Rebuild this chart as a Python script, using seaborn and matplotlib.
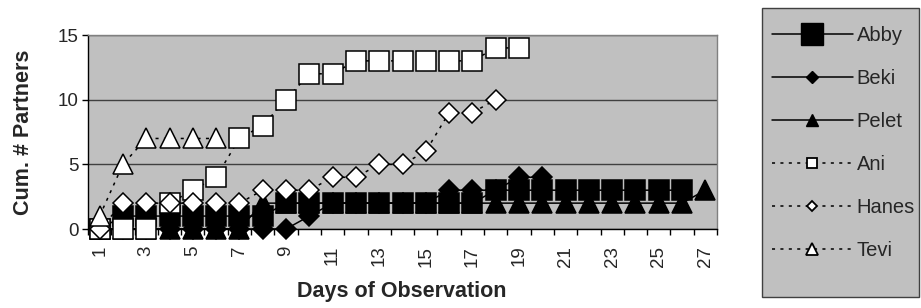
import matplotlib
matplotlib.use("Agg")
import matplotlib.pyplot as plt
import seaborn as sns
from matplotlib.lines import Line2D
from matplotlib.patches import Rectangle

# ---------------- data ----------------
days = list(range(1, 28))
abby = [0, 1, 1, 1, 1, 1, 1, 1, 2, 2, 2, 2, 2, 2, 2, 2, 2, 3, 3, 3, 3, 3, 3, 3, 3, 3]
beki = [0, 0, 0, 0, 0, 0, 0, 0, 0, 1, 2, 2, 2, 2, 2, 3, 3, 3, 4, 4]
pelet = [0, 0, 0, 0, 0, 0, 0, 2, 2, 2, 2, 2, 2, 2, 2, 2, 2, 2, 2, 2, 2, 2, 2, 2, 2, 2, 3]
ani = [0, 0, 0, 2, 3, 4, 7, 8, 10, 12, 12, 13, 13, 13, 13, 13, 13, 14, 14]
hanes = [0, 2, 2, 2, 2, 2, 2, 3, 3, 3, 4, 4, 5, 5, 6, 9, 9, 10]
tevi = [1, 5, 7, 7, 7, 7]
names = ["Abby", "Beki", "Pelet", "Ani", "Hanes", "Tevi"]
xlabels = [str(d) for d in days if d % 2 == 1]
yticks = [0, 5, 10, 15]

# ---------------- style ----------------
sns.set_style("ticks")
plt.rcParams["font.family"] = ["Liberation Sans", "DejaVu Sans"]

W, H = 921, 308
fig = plt.figure(figsize=(W / 100, H / 100), dpi=100)
L, R, T, B = 88, 717, 35, 229
ax = fig.add_axes([L / W, 1 - B / H, (R - L) / W, (B - T) / H])
ax.set_facecolor("#c0c0c0")

dot = (0, (2.0, 3.5))
series = [
    # name, values, linestyle, marker, ms, face, zorder
    ("Pelet", pelet, "-", "^", 14.5, "black", 3),
    ("Beki", beki, "-", "D", 10.0, "black", 4),
    ("Abby", abby, "-", "s", 14.0, "black", 5),
    ("Ani", ani, dot, "s", 14.0, "white", 6),
    ("Hanes", hanes, dot, "D", 9.8, "white", 7),
    ("Tevi", tevi, dot, "^", 14.5, "white", 8),
]
for name, vals, ls, mk, ms, fc, z in series:
    sns.lineplot(x=days[:len(vals)], y=vals, ax=ax, color="black",
                 linestyle=ls, linewidth=1.1, marker=mk, markersize=ms,
                 markerfacecolor=fc, markeredgecolor="black",
                 markeredgewidth=1.1, clip_on=False, zorder=z, legend=False)

# axes
ax.set_ylim(0, 15)
ax.set_xlim(0.5, 27.5)
ax.set_yticks(yticks)
ax.set_yticklabels([str(v) for v in yticks])
ax.set_xticks([d for d in days if d % 2 == 1])
ax.set_xticklabels(xlabels, rotation=90)
ax.set_xticks([d + 0.5 for d in range(0, 28)], minor=True)
ax.tick_params(axis="x", which="major", length=0, pad=12, labelsize=13.5)
ax.tick_params(axis="x", which="minor", length=4, width=1, color="black", direction="out")
ax.tick_params(axis="y", which="major", length=4, width=1, color="black", direction="out",
               labelsize=13.5, pad=3)
ax.yaxis.grid(True, color="#404040", linewidth=1)
ax.xaxis.grid(False)
ax.set_axisbelow(True)
for s in ["left", "bottom"]:
    ax.spines[s].set_color("black")
    ax.spines[s].set_linewidth(1)
for s in ["top", "right"]:
    ax.spines[s].set_visible(True)
    ax.spines[s].set_color("#808080")
    ax.spines[s].set_linewidth(1)

ax.set_ylabel("Cum. # Partners", fontsize=15.5, fontweight="bold", va="center")
ax.yaxis.set_label_coords((24 - L) / (R - L), 0.5)
ax.set_xlabel("Days of Observation", fontsize=15.5, fontweight="bold", va="center")
ax.xaxis.set_label_coords((402 - L) / (R - L), -(292 - B) / (B - T))

# legend
fig.add_artist(Rectangle((762 / W, 1 - 297 / H), (919 - 762) / W, (297 - 8) / H,
                         transform=fig.transFigure, facecolor="#c0c0c0",
                         edgecolor="#404040", linewidth=1, zorder=0))
handles = [
    Line2D([], [], color="black", lw=1.1, ls="-", marker="s", ms=16, mfc="black", mec="black"),
    Line2D([], [], color="black", lw=1.1, ls="-", marker="D", ms=6, mfc="black", mec="black"),
    Line2D([], [], color="black", lw=1.1, ls="-", marker="^", ms=8, mfc="black", mec="black"),
    Line2D([], [], color="black", lw=1.1, ls=dot, marker="s", ms=7, mfc="white", mec="black", mew=1.3),
    Line2D([], [], color="black", lw=1.1, ls=dot, marker="D", ms=5.5, mfc="white", mec="black", mew=1.3),
    Line2D([], [], color="black", lw=1.1, ls=dot, marker="^", ms=8, mfc="white", mec="black", mew=1.3),
]
fs = 14.5
leg = fig.legend(handles, names, loc="upper left",
                 bbox_to_anchor=(772 / W, 1 - 26 / H), frameon=False,
                 fontsize=fs, handlelength=4.0, handletextpad=0.2,
                 labelspacing=1.19, borderpad=0, borderaxespad=0)

fig.savefig("out.png", dpi=100)
